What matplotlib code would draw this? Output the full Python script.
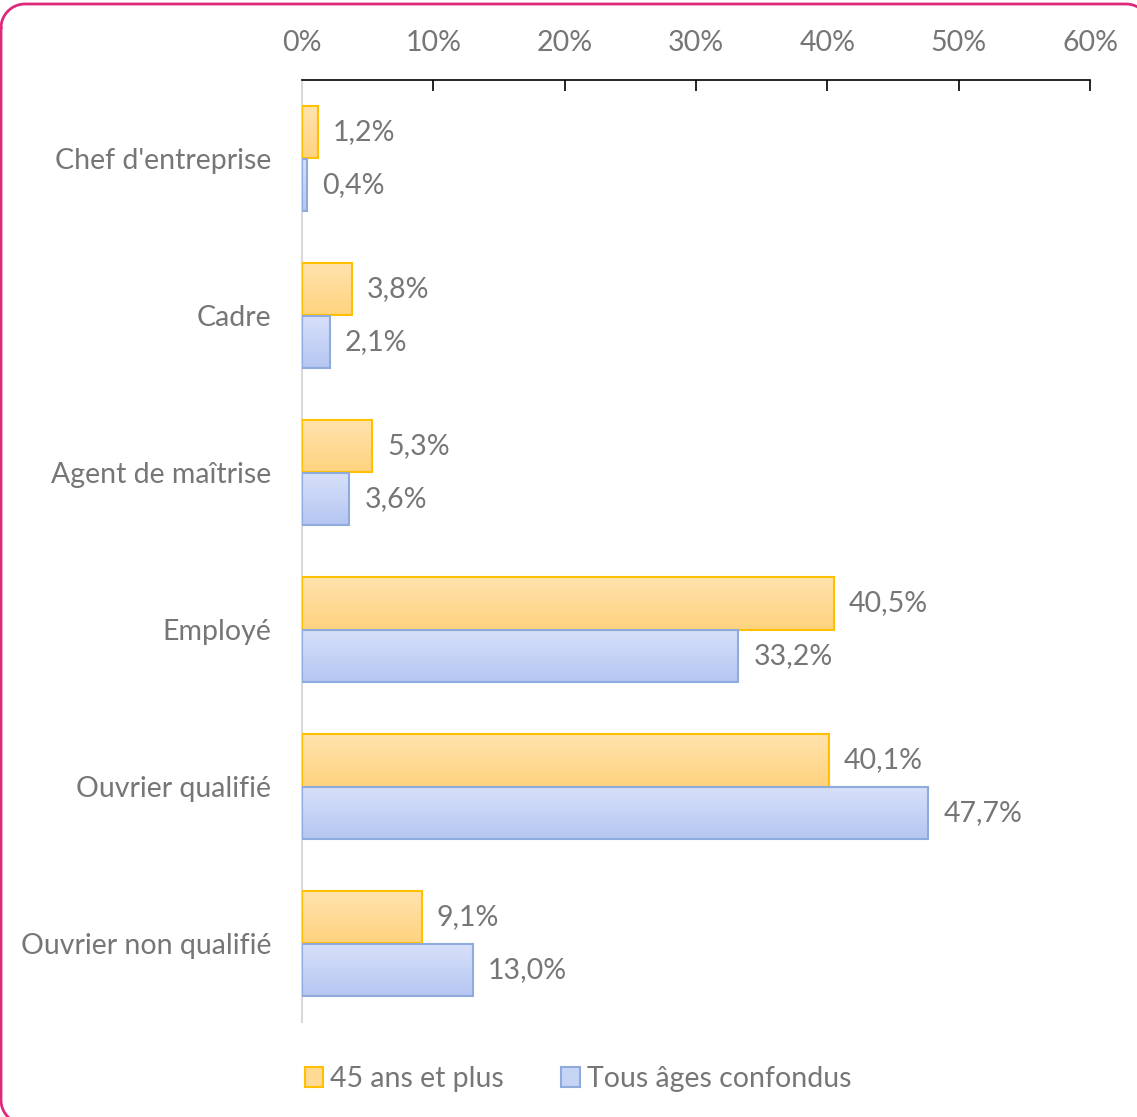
import numpy as np
import matplotlib.pyplot as plt
from matplotlib.lines import Line2D
from matplotlib.patches import Patch
from matplotlib.colors import LinearSegmentedColormap
from matplotlib.ticker import FuncFormatter

categories = ["Chef d'entreprise", "Cadre", "Agent de maîtrise", "Employé",
              "Ouvrier qualifié", "Ouvrier non qualifié"]
seniors = [1.2, 3.8, 5.3, 40.5, 40.1, 9.1]
all_ages = [0.4, 2.1, 3.6, 33.2, 47.7, 13.0]
series_names = ["45 ans et plus", "Tous âges confondus"]
xticks = [0, 10, 20, 30, 40, 50, 60]

ORANGE_EDGE = '#FFC000'
BLUE_EDGE = '#8FAADC'
ORANGE_GRAD = ['#FFE3AE', '#FFD37F']
BLUE_GRAD = ['#D8E1FA', '#B5C6F2']
TEXT_GREY = '#767676'
FS = 20.5

plt.rcParams['font.family'] = ['Lato', 'DejaVu Sans']

fig = plt.figure(figsize=(11.37, 11.17), dpi=100)
W, H = 1137, 1117
ax = fig.add_axes([302 / W, 1 - 1022 / H, (1090 - 302) / W, (1022 - 80) / H])

y = np.arange(len(categories))
h = 0.335


def gradient_bars(bars, colors, edge):
    cmap = LinearSegmentedColormap.from_list('g', colors)
    grad = np.linspace(0, 1, 64).reshape(-1, 1)
    for b in bars:
        x0, y0 = b.get_x(), b.get_y()
        w, hh = b.get_width(), b.get_height()
        im = ax.imshow(grad, cmap=cmap, aspect='auto', origin='upper',
                       extent=[x0, x0 + w, y0 + hh, y0], zorder=2)
        im.set_clip_path(b)
        b.set_facecolor('none')
        b.set_edgecolor(edge)
        b.set_linewidth(1.5)
        b.set_zorder(3)


b1 = ax.barh(y - h / 2, seniors, height=h)
b2 = ax.barh(y + h / 2, all_ages, height=h)
gradient_bars(b1, ORANGE_GRAD, ORANGE_EDGE)
gradient_bars(b2, BLUE_GRAD, BLUE_EDGE)

fmt = lambda v: f"{v:.1f}%".replace('.', ',')
for vals, off in ((seniors, -h / 2), (all_ages, h / 2)):
    for i, v in enumerate(vals):
        ax.annotate(fmt(v), (v, i + off), xytext=(11, 0), textcoords='offset points',
                    va='center', ha='left', fontsize=FS, color=TEXT_GREY)

ax.set_xlim(0, 60)
ax.set_ylim(len(categories) - 0.5, -0.5)
ax.set_xticks(xticks)
ax.xaxis.set_major_formatter(FuncFormatter(lambda v, p: f"{v:.0f}%"))
ax.xaxis.tick_top()
ax.tick_params(axis='x', direction='in', length=8, width=1.2, colors='black',
               labelcolor=TEXT_GREY, labelsize=FS, pad=17)
ax.set_yticks(y)
ax.set_yticklabels(categories)
ax.tick_params(axis='y', length=0, labelcolor=TEXT_GREY, labelsize=FS, pad=22)

for s in ('right', 'bottom'):
    ax.spines[s].set_visible(False)
ax.spines['top'].set_color('black')
ax.spines['top'].set_linewidth(1.2)
ax.spines['left'].set_color('#D9D9D9')
ax.spines['left'].set_linewidth(1.5)
ax.set_facecolor('none')

handles = [Patch(facecolor='#FFDA95', edgecolor=ORANGE_EDGE, linewidth=1.5),
           Patch(facecolor='#C6D4F6', edgecolor=BLUE_EDGE, linewidth=1.5)]
fig.legend(handles, series_names, loc='center', bbox_to_anchor=(578 / W, 1 - 1079 / H),
           ncol=2, frameon=False, fontsize=FS, labelcolor=TEXT_GREY,
           handlelength=0.65, handleheight=0.65, handletextpad=0.25, columnspacing=2.0)

# rounded frame in pixel units (y down), running off the right and bottom edges
left, top, right, bottom, r = 1, 4, 1150, 1124, 24
t = np.linspace(0, np.pi / 2, 20)
xs = np.concatenate([left + r - r * np.cos(t), right - r + r * np.sin(t),
                     right - r + r * np.cos(t), left + r - r * np.sin(t)])
ys = np.concatenate([top + r - r * np.sin(t), top + r - r * np.cos(t),
                     bottom - r + r * np.sin(t), bottom - r + r * np.cos(t)])
xs, ys = np.append(xs, xs[0]), np.append(ys, ys[0])
fig.add_artist(Line2D(xs / W, 1 - ys / H, transform=fig.transFigure,
                      color='#E0287A', linewidth=2, zorder=10))

fig.savefig('out.png', dpi=100)
